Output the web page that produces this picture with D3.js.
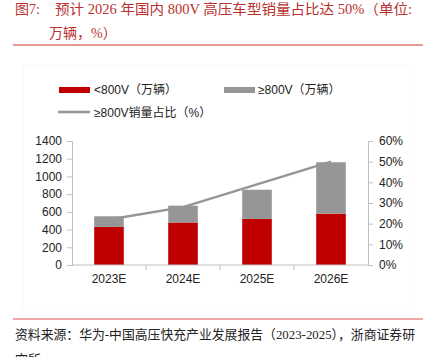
<!DOCTYPE html>
<html><head><meta charset="utf-8">
<script src="https://cdn.jsdelivr.net/npm/d3@7"></script>
<style>body{margin:0;background:#fff}svg{display:block}</style>
</head><body>
<script>
const categories = ["2023E","2024E","2025E","2026E"];
const below800 = [430, 480, 520, 580];
const above800 = [120, 190, 330, 580];
const sharePct = [22, 28, 39, 50];
const leftTicks = [0,200,400,600,800,1000,1200,1400];
const rightTicks = [0,10,20,30,40,50,60];

const W=440,H=357;
const svg=d3.select("body").append("svg").attr("width",W).attr("height",H);
const serif='"Liberation Serif","Noto Sans CJK SC",serif';
const sans='"Liberation Sans",Arial,"Noto Sans CJK SC",sans-serif';
const titleColor="#b8312f";

// Title
svg.append("text").attr("x",15).attr("y",14).attr("fill",titleColor).attr("font-family",serif).attr("font-size",14)
  .text("图7:");
svg.append("text").attr("x",55).attr("y",14).attr("fill",titleColor).attr("font-family",serif).attr("font-size",14)
  .attr("textLength",357).attr("lengthAdjust","spacingAndGlyphs")
  .text("预计 2026 年国内 800V 高压车型销量占比达 50%（单位:");
svg.append("text").attr("x",49).attr("y",38).attr("fill",titleColor).attr("font-family",serif).attr("font-size",14)
  .text("万辆，%）");
svg.append("line").attr("x1",13).attr("x2",423).attr("y1",45).attr("y2",45).attr("stroke","#c0392b").attr("stroke-width",1);

// faint chart frame
svg.append("rect").attr("x",23).attr("y",65).attr("width",390).attr("height",245).attr("fill","none").attr("stroke","#fafafa");

// scales
const x=d3.scaleBand().domain(categories).range([72,368]).paddingInner(0.6).paddingOuter(0.3);
const y=d3.scaleLinear().domain([0,1400]).range([265,141]);
const y2=d3.scaleLinear().domain([0,60]).range([265,141]);
const axisColor="#bfbfbf";

// axes
const gl=svg.append("g").attr("transform","translate(72,0)").call(d3.axisLeft(y).tickValues(leftTicks).tickSize(5).tickPadding(5).tickFormat(d3.format("d")));
const gr=svg.append("g").attr("transform","translate(368,0)").call(d3.axisRight(y2).tickValues(rightTicks).tickSize(5).tickPadding(6).tickFormat(d=>d+"%"));
[gl,gr].forEach(g=>{
  g.selectAll("path,line").attr("stroke",axisColor);
  g.selectAll("text").attr("font-family",sans).attr("font-size",12).attr("fill","#222");
});

// line behind bars
const line=d3.line().x((d,i)=>x(categories[i])+x.bandwidth()/2).y(d=>y2(d));
svg.append("path").datum(sharePct).attr("d",line).attr("fill","none").attr("stroke","#959595").attr("stroke-width",2.5);

// bars
const g=svg.append("g");
g.selectAll(".r").data(categories).enter().append("rect")
  .attr("x",d=>x(d)).attr("width",x.bandwidth())
  .attr("y",(d,i)=>y(below800[i])).attr("height",(d,i)=>y(0)-y(below800[i])).attr("fill","#c00000");
g.selectAll(".g").data(categories).enter().append("rect")
  .attr("x",d=>x(d)).attr("width",x.bandwidth())
  .attr("y",(d,i)=>y(below800[i]+above800[i])).attr("height",(d,i)=>y(below800[i])-y(below800[i]+above800[i])).attr("fill","#969696");

// bottom axis
const xb=d3.scaleBand().domain(categories).range([72,368]);
const gb=svg.append("g").attr("transform","translate(0,265)");
gb.append("line").attr("x1",72).attr("x2",368).attr("stroke",axisColor);
const bounds=[1,2,3].map(i=>72+i*xb.step());
gb.selectAll(".tk").data(bounds).enter().append("line").attr("x1",d=>d).attr("x2",d=>d).attr("y1",0).attr("y2",5).attr("stroke",axisColor);
gb.selectAll(".lb").data(categories).enter().append("text")
  .attr("x",d=>xb(d)+xb.bandwidth()/2).attr("y",18).attr("text-anchor","middle")
  .attr("font-family",sans).attr("font-size",12).attr("fill","#222").text(d=>d);

// legend
const lg=svg.append("g").attr("font-family",sans).attr("font-size",12).attr("fill","#222");
lg.append("rect").attr("x",59).attr("y",87).attr("width",31).attr("height",6).attr("fill","#c00000");
lg.append("text").attr("x",94).attr("y",94).text("<800V（万辆）");
lg.append("rect").attr("x",224).attr("y",87).attr("width",31).attr("height",6).attr("fill","#969696");
lg.append("text").attr("x",258).attr("y",94).text("≥800V（万辆）");
lg.append("line").attr("x1",58).attr("x2",90).attr("y1",112).attr("y2",112).attr("stroke","#959595").attr("stroke-width",2.5);
lg.append("text").attr("x",94).attr("y",116.5).text("≥800V销量占比（%）");

// footer
svg.append("line").attr("x1",13).attr("x2",423).attr("y1",319).attr("y2",319).attr("stroke","#e05050").attr("stroke-width",1);
svg.append("text").attr("x",15).attr("y",339).attr("fill","#222").attr("font-family",serif).attr("font-size",13)
  .attr("textLength",400).attr("lengthAdjust","spacingAndGlyphs")
  .text("资料来源：华为-中国高压快充产业发展报告（2023-2025），浙商证券研");
svg.append("text").attr("x",15).attr("y",364).attr("fill","#222").attr("font-family",serif).attr("font-size",13).text("究所");
</script>
</body></html>
